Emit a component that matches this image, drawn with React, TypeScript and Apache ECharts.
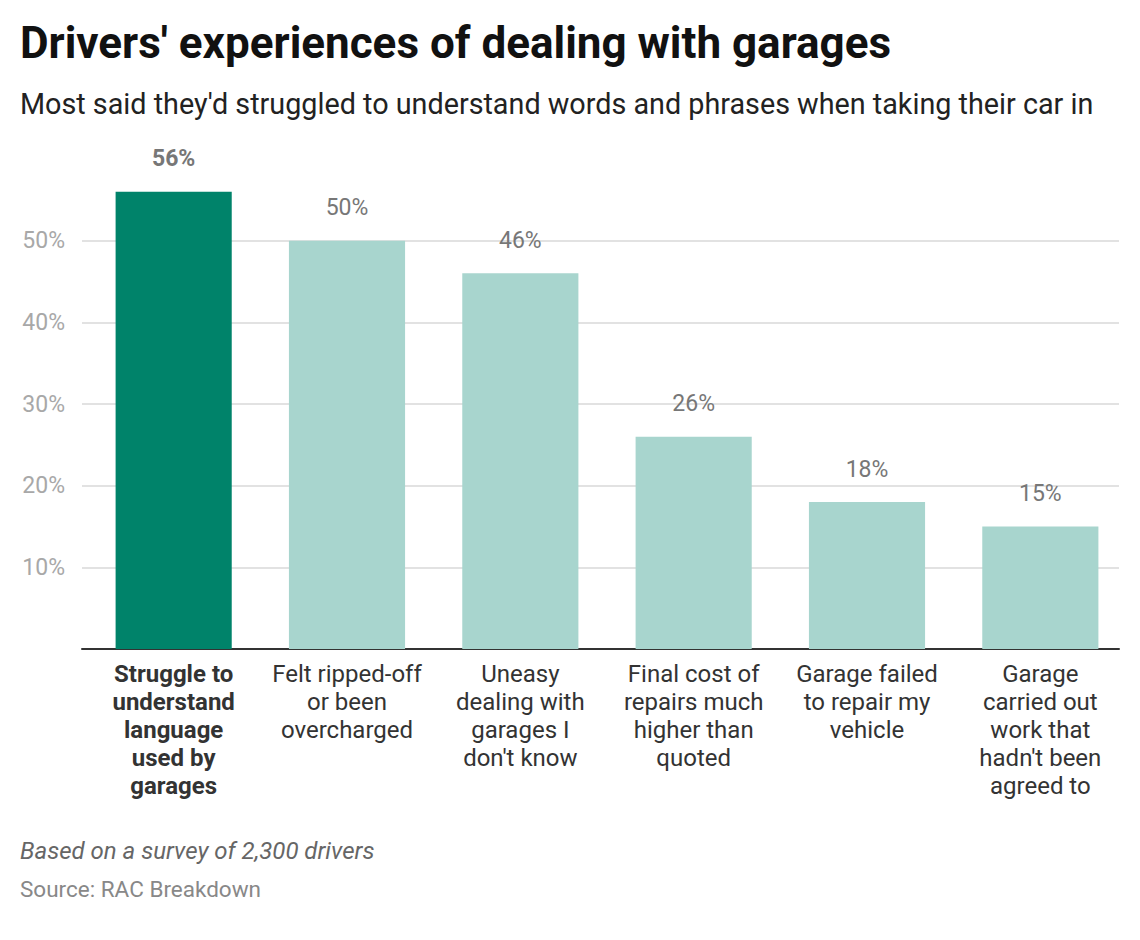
import React, { useEffect, useRef } from "react";
import * as echarts from "echarts";

const categories: string[] = [
  "Struggle to\nunderstand\nlanguage\nused by\ngarages",
  "Felt ripped-off\nor been\novercharged",
  "Uneasy\ndealing with\ngarages I\ndon't know",
  "Final cost of\nrepairs much\nhigher than\nquoted",
  "Garage failed\nto repair my\nvehicle",
  "Garage\ncarried out\nwork that\nhadn't been\nagreed to",
];
const values: number[] = [56, 50, 46, 26, 18, 15];
const highlightIndex = 0;

const titleText = "Drivers' experiences of dealing with garages";
const subtitleText =
  "Most said they'd struggled to understand words and phrases when taking their car in";
const noteText = "Based on a survey of 2,300 drivers";
const sourceText = "Source: RAC Breakdown";

const FONT = "Roboto, 'Noto Sans', sans-serif";

export default function App() {
  const ref = useRef<HTMLDivElement>(null);
  useEffect(() => {
    document.body.style.margin = "0";
    if (!ref.current) return;
    const chart = echarts.init(ref.current, null, { renderer: "svg" });
    const dark = "#00836a";
    const light = "#a8d5ce";
    chart.setOption({
      animation: false,
      backgroundColor: "#ffffff",
      textStyle: { fontFamily: FONT },
      grid: [
        { left: 82, right: 21, top: 159, bottom: 291 },
        { left: 87, right: 13, top: 159, bottom: 291 },
      ],
      xAxis: [
        {
          gridIndex: 0,
          type: "category",
          data: categories,
          axisLine: { show: true, lineStyle: { color: "#333333", width: 2 } },
          axisTick: { show: false },
          axisLabel: { show: false },
          splitLine: { show: false },
        },
        {
          gridIndex: 1,
          type: "category",
          data: categories,
          axisLine: { show: false },
          axisTick: { show: false },
          axisLabel: {
            interval: 0,
            margin: 11,
            fontSize: 24,
            lineHeight: 28,
            color: "#333333",
            fontFamily: FONT,
            verticalAlign: "top",
            formatter: (v: string) => {
              const idx = categories.indexOf(v);
              return idx === highlightIndex ? "{b|" + v.split("\n").join("}\n{b|") + "}" : v;
            },
            rich: {
              b: {
                fontWeight: "bold",
                fontSize: 24,
                lineHeight: 28,
                color: "#333333",
                fontFamily: FONT,
              },
            },
          },
        },
      ],
      yAxis: [
        {
          gridIndex: 0,
          type: "value",
          min: 0,
          max: 60,
          interval: 10,
          axisLine: { show: false },
          axisTick: { show: false },
          axisLabel: {
            formatter: (v: number) => (v === 0 || v === 60 ? "" : v + "%"),
            fontSize: 23,
            color: "#a8a8a8",
            margin: 17,
            fontFamily: FONT,
          },
          splitLine: {
            show: true,
            showMinLine: false,
            showMaxLine: false,
            lineStyle: { color: "#e2e2e2", width: 2 },
          },
        },
        {
          gridIndex: 1,
          type: "value",
          min: 0,
          max: 60,
          interval: 10,
          show: false,
          splitLine: { show: false },
        },
      ],
      series: [
        {
          type: "bar",
          xAxisIndex: 1,
          yAxisIndex: 1,
          barWidth: "67%",
          data: values.map((v, i) => ({
            value: v,
            itemStyle: { color: i === highlightIndex ? dark : light },
            label: {
              fontWeight: i === highlightIndex ? "bold" : "normal",
            },
          })),
          label: {
            show: true,
            position: "top",
            distance: 22,
            fontSize: 23,
            lineHeight: 22,
            color: "#777777",
            fontFamily: FONT,
            formatter: (p: any) => p.value + "%",
          },
        },
      ],
      graphic: [
        {
          type: "text",
          left: 20,
          top: 21,
          style: {
            text: titleText,
            font: "bold 44px " + FONT,
            fill: "#111111",
          },
        },
        {
          type: "text",
          left: 20,
          top: 89,
          style: {
            text: subtitleText,
            font: "28.75px " + FONT,
            fill: "#222222",
          },
        },
        {
          type: "text",
          left: 20,
          top: 839,
          style: {
            text: noteText,
            font: "italic 24px " + FONT,
            fill: "#666666",
          },
        },
        {
          type: "text",
          left: 20,
          top: 877,
          style: {
            text: sourceText,
            font: "22.5px " + FONT,
            fill: "#888888",
          },
        },
      ],
    });
    return () => chart.dispose();
  }, []);
  return <div ref={ref} style={{ width: 1140, height: 940 }} />;
}
